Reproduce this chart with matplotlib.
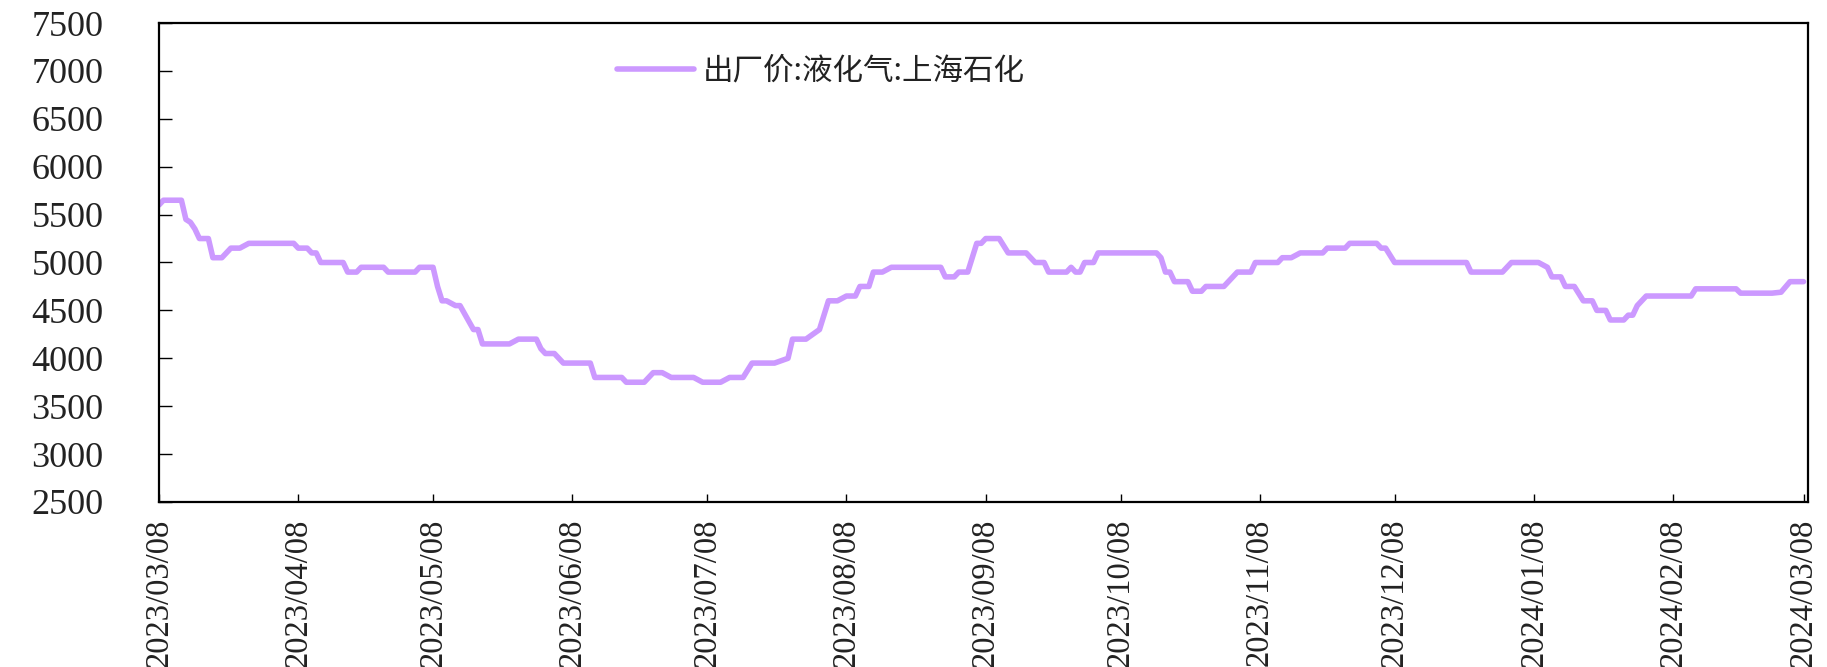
import numpy as np
import pandas as pd
import matplotlib
matplotlib.use('Agg')
import matplotlib.pyplot as plt
import matplotlib.dates as mdates

plt.rcParams['font.family'] = ['Liberation Serif', 'Noto Sans CJK SC', 'DejaVu Sans']

# ---------------------------------------------------------------
# Data: ex-factory LPG price, Shanghai Petrochemical
# ---------------------------------------------------------------
series_name = '出厂价:液化气:上海石化'

dates = [
    '2023-03-08', '2023-03-09', '2023-03-13', '2023-03-14', '2023-03-15', '2023-03-16',
    '2023-03-17', '2023-03-19', '2023-03-20', '2023-03-22', '2023-03-24', '2023-03-26',
    '2023-03-28', '2023-04-07', '2023-04-08', '2023-04-10', '2023-04-11', '2023-04-12',
    '2023-04-13', '2023-04-18', '2023-04-19', '2023-04-21', '2023-04-22', '2023-04-27',
    '2023-04-28', '2023-05-04', '2023-05-05', '2023-05-08', '2023-05-09', '2023-05-10',
    '2023-05-11', '2023-05-13', '2023-05-14', '2023-05-17', '2023-05-18', '2023-05-19',
    '2023-05-25', '2023-05-27', '2023-05-31', '2023-06-01', '2023-06-02', '2023-06-04',
    '2023-06-06', '2023-06-12', '2023-06-13', '2023-06-19', '2023-06-20', '2023-06-24',
    '2023-06-26', '2023-06-28', '2023-06-30', '2023-07-05', '2023-07-07', '2023-07-11',
    '2023-07-13', '2023-07-16', '2023-07-18', '2023-07-23', '2023-07-26', '2023-07-27',
    '2023-07-30', '2023-08-02', '2023-08-04', '2023-08-06', '2023-08-08', '2023-08-10',
    '2023-08-11', '2023-08-13', '2023-08-14', '2023-08-16', '2023-08-18', '2023-08-29',
    '2023-08-30', '2023-09-01', '2023-09-02', '2023-09-04', '2023-09-05', '2023-09-06',
    '2023-09-07', '2023-09-08', '2023-09-11', '2023-09-13', '2023-09-17', '2023-09-19',
    '2023-09-21', '2023-09-22', '2023-09-26', '2023-09-27', '2023-09-28', '2023-09-29',
    '2023-09-30', '2023-10-02', '2023-10-03', '2023-10-16', '2023-10-17', '2023-10-18',
    '2023-10-19', '2023-10-20', '2023-10-23', '2023-10-24', '2023-10-26', '2023-10-27',
    '2023-10-31', '2023-11-02', '2023-11-03', '2023-11-06', '2023-11-07', '2023-11-12',
    '2023-11-13', '2023-11-15', '2023-11-17', '2023-11-22', '2023-11-23', '2023-11-27',
    '2023-11-28', '2023-12-04', '2023-12-05', '2023-12-06', '2023-12-08', '2023-12-24',
    '2023-12-25', '2024-01-01', '2024-01-03', '2024-01-09', '2024-01-11', '2024-01-12',
    '2024-01-14', '2024-01-15', '2024-01-17', '2024-01-19', '2024-01-21', '2024-01-22',
    '2024-01-24', '2024-01-25', '2024-01-28', '2024-01-29', '2024-01-30', '2024-01-31',
    '2024-02-02', '2024-02-12', '2024-02-13', '2024-02-22', '2024-02-23', '2024-03-01',
    '2024-03-03', '2024-03-05', '2024-03-08',
]

prices = [
    5600, 5650, 5650, 5450, 5420, 5350,
    5250, 5250, 5050, 5050, 5150, 5150,
    5200, 5200, 5150, 5150, 5100, 5100,
    5000, 5000, 4900, 4900, 4950, 4950,
    4900, 4900, 4950, 4950, 4750, 4600,
    4600, 4550, 4550, 4300, 4300, 4150,
    4150, 4200, 4200, 4100, 4050, 4050,
    3950, 3950, 3800, 3800, 3750, 3750,
    3850, 3850, 3800, 3800, 3750, 3750,
    3800, 3800, 3950, 3950, 4000, 4200,
    4200, 4300, 4600, 4600, 4650, 4650,
    4750, 4750, 4900, 4900, 4950, 4950,
    4850, 4850, 4900, 4900, 5050, 5200,
    5200, 5250, 5250, 5100, 5100, 5000,
    5000, 4900, 4900, 4950, 4900, 4900,
    5000, 5000, 5100, 5100, 5050, 4900,
    4900, 4800, 4800, 4700, 4700, 4750,
    4750, 4850, 4900, 4900, 5000, 5000,
    5050, 5050, 5100, 5100, 5150, 5150,
    5200, 5200, 5150, 5150, 5000, 5000,
    4900, 4900, 5000, 5000, 4950, 4850,
    4850, 4750, 4750, 4600, 4600, 4500,
    4500, 4400, 4400, 4450, 4450, 4550,
    4650, 4650, 4725, 4725, 4680, 4680,
    4690, 4800, 4800,
]

tick_dates = ['2023-03-08', '2023-04-08', '2023-05-08', '2023-06-08', '2023-07-08',
              '2023-08-08', '2023-09-08', '2023-10-08', '2023-11-08', '2023-12-08',
              '2024-01-08', '2024-02-08', '2024-03-08']
y_ticks = [2500, 3000, 3500, 4000, 4500, 5000, 5500, 6000, 6500, 7000, 7500]

x = pd.to_datetime(dates)
ticks = pd.to_datetime(tick_dates)

# ---------------------------------------------------------------
# Plot
# ---------------------------------------------------------------
fig = plt.figure(figsize=(18.27, 6.67), dpi=100)
ax = fig.add_axes([0.087, 0.2474, 0.9026, 0.7181])

ax.plot(x, prices, color='#CC99FF', linewidth=4.0, solid_joinstyle='round',
        solid_capstyle='round', label=series_name)

ax.set_xlim(pd.Timestamp('2023-03-08'), pd.Timestamp('2024-03-09'))
ax.set_ylim(2500, 7500)
ax.set_yticks(y_ticks)
ax.set_xticks(ticks)
ax.xaxis.set_major_formatter(mdates.DateFormatter('%Y/%m/%d'))

for s in ax.spines.values():
    s.set_linewidth(1.6)
    s.set_color('black')

ax.tick_params(axis='y', direction='in', length=9.5, width=1, pad=40, labelsize=26)
ax.tick_params(axis='x', direction='in', length=6, width=1, pad=12, labelsize=23.5,
               labelrotation=90)
for lab in ax.get_yticklabels():
    lab.set_color('#222222')
for lab in ax.get_xticklabels():
    lab.set_color('#222222')

leg = ax.legend(loc='center left', bbox_to_anchor=(0.278, 0.90), frameon=False,
                borderpad=0, borderaxespad=0, handlelength=2.5, handletextpad=0.3,
                prop={'family': ['Noto Sans CJK SC', 'DejaVu Sans'], 'size': 22})
for t in leg.get_texts():
    t.set_color('#222222')

fig.savefig('out.png', dpi=100)
